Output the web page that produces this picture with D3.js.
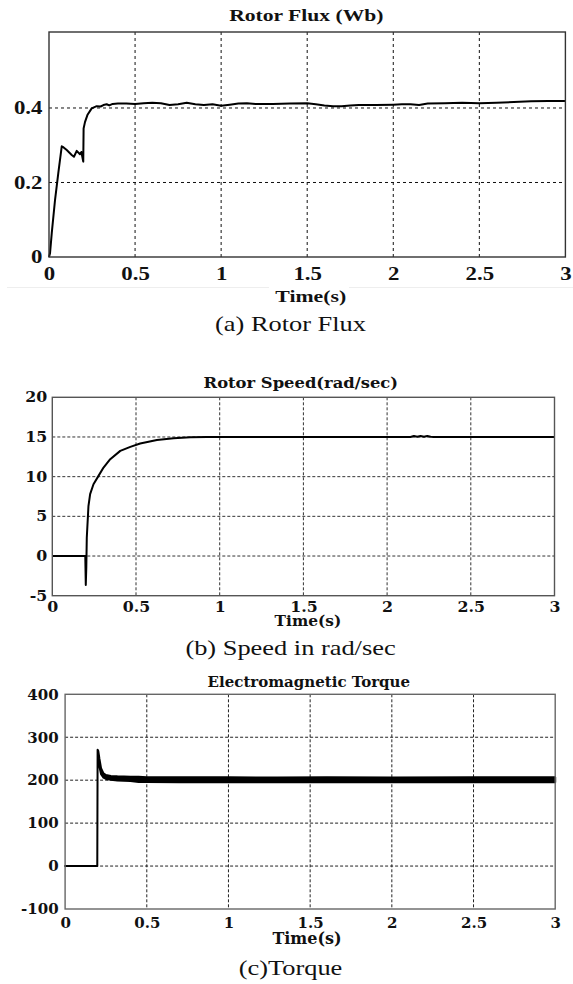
<!DOCTYPE html>
<html lang="en">
<head>
<meta charset="UTF-8">
<title>Rotor flux, speed and torque</title>
<script src="https://cdn.jsdelivr.net/npm/d3@7"></script>
<style>
  body { margin: 0; background: #fff; }
  svg { display: block; }
</style>
</head>
<body>
<svg id="chart" width="573" height="984"></svg>
<script>
// ---- data ----
const timeTicks = [0, 0.5, 1, 1.5, 2, 2.5, 3];
const timeTickLabels = ["0", "0.5", "1", "1.5", "2", "2.5", "3"];

// (a) rotor flux (Wb)
const fluxTime = [0, 0.006, 0.016, 0.035, 0.054, 0.074, 0.085, 0.103, 0.132, 0.145, 0.161, 0.18, 0.188, 0.199,
  0.201, 0.209, 0.223, 0.248, 0.277, 0.3, 0.316, 0.335, 0.35, 0.37, 0.4, 0.45, 0.5, 0.55, 0.6, 0.65, 0.7,
  0.75, 0.8, 0.85, 0.9, 0.95, 1.0, 1.05, 1.1, 1.15, 1.2, 1.3, 1.4, 1.5, 1.55, 1.6, 1.65, 1.7, 1.75, 1.8,
  1.9, 2.0, 2.05, 2.1, 2.15, 2.2, 2.3, 2.4, 2.5, 2.6, 2.7, 2.8, 2.9, 3.0];
const fluxValue = [0, 0.01, 0.064, 0.153, 0.225, 0.297, 0.294, 0.287, 0.274, 0.269, 0.285, 0.276, 0.282, 0.256,
  0.345, 0.362, 0.381, 0.399, 0.405, 0.404, 0.408, 0.41, 0.407, 0.411, 0.412, 0.412, 0.411, 0.413, 0.414, 0.413, 0.408,
  0.41, 0.414, 0.41, 0.408, 0.41, 0.406, 0.409, 0.412, 0.413, 0.411, 0.411, 0.412, 0.413, 0.41, 0.407, 0.405, 0.405, 0.407, 0.408,
  0.408, 0.409, 0.41, 0.41, 0.408, 0.412, 0.413, 0.414, 0.413, 0.414, 0.416, 0.418, 0.419, 0.419];
const fluxTicks = [0, 0.2, 0.4];
const fluxTickLabels = ["0", "0.2", "0.4"];

// (b) rotor speed (rad/sec)
const speedTime = [0, 0.197, 0.2, 0.203, 0.206, 0.216, 0.226, 0.246, 0.276, 0.306, 0.346, 0.406, 0.466, 0.525,
  0.625, 0.725, 0.825, 0.925, 1.5, 2.14, 2.16, 2.18, 2.2, 2.22, 2.24, 2.26, 2.28, 3.0];
const speedValue = [0, 0, -3.65, -1.5, 2.3, 6.3, 7.8, 9.05, 10.1, 11.15, 12.2, 13.25, 13.75, 14.17,
  14.63, 14.84, 14.96, 15, 15, 15, 15.13, 15.02, 15.13, 15.02, 15.13, 15.02, 15, 15];
const speedTicks = [-5, 0, 5, 10, 15, 20];
const speedTickLabels = ["-5", "0", "5", "10", "15", "20"];

// (c) electromagnetic torque: ripple band, upper and lower edge
const torqueTime = [0, 0.197, 0.199, 0.203, 0.21, 0.22, 0.235, 0.25, 0.28, 0.32, 0.4, 0.45, 0.5, 0.7, 1.0, 1.3, 1.6, 2.0, 2.5, 3.0];
const torqueUpper = [0, 0, 271, 268, 250, 228, 216, 212, 210, 209, 208, 208, 207, 207, 207, 206, 207, 206, 207, 207];
const torqueLower = [0, 0, 262, 252, 232, 214, 206, 203, 201, 199, 198, 196, 196, 195, 195, 195, 195, 195, 195, 195];
const torqueTicks = [-100, 0, 100, 200, 300, 400];
const torqueTickLabels = ["-100", "0", "100", "200", "300", "400"];

const svg = d3.select("#chart");
svg.append("rect").attr("width", 573).attr("height", 984).attr("fill", "#fff");

function stretchedText(g, x, y, str, font, size, sx, weight) {
  return g.append("text")
    .attr("transform", `translate(${x},${y}) scale(${sx},1)`)
    .attr("text-anchor", "middle")
    .attr("font-family", font)
    .attr("font-size", size)
    .attr("font-weight", weight || "bold")
    .attr("fill", "#111")
    .text(str);
}

function panel(p) {
  const g = svg.append("g");
  const x = d3.scaleLinear().domain([0, 3]).range([p.left, p.right]);
  const y = d3.scaleLinear().domain(p.yDomain).range([p.bottom, p.top]);

  // grid
  g.append("g").selectAll("line").data(timeTicks.slice(1, -1)).join("line")
    .attr("x1", d => x(d)).attr("x2", d => x(d))
    .attr("y1", p.top).attr("y2", p.bottom)
    .attr("stroke", p.gridColor).attr("stroke-width", 1).attr("stroke-dasharray", p.dash);
  g.append("g").selectAll("line").data(p.yTicks.filter(v => v > p.yDomain[0] && v < p.yDomain[1])).join("line")
    .attr("x1", p.left).attr("x2", p.right)
    .attr("y1", d => y(d)).attr("y2", d => y(d))
    .attr("stroke", p.gridColor).attr("stroke-width", 1).attr("stroke-dasharray", p.dash);

  // data
  p.draw(g, x, y);

  // frame
  g.append("rect")
    .attr("x", p.left).attr("y", p.top)
    .attr("width", p.right - p.left).attr("height", p.bottom - p.top)
    .attr("fill", "none").attr("stroke", p.frameColor).attr("stroke-width", 1.4);

  // axes
  const xAxis = g.append("g").attr("transform", `translate(0,${p.bottom})`)
    .call(d3.axisBottom(x).tickValues(timeTicks).tickSize(0).tickPadding(p.xPad)
      .tickFormat((d, i) => timeTickLabels[i]));
  const yAxis = g.append("g").attr("transform", `translate(${p.left},0)`)
    .call(d3.axisLeft(y).tickValues(p.yTicks).tickSize(0).tickPadding(p.yPad)
      .tickFormat((d, i) => p.yLabels[i]));
  [xAxis, yAxis].forEach(a => {
    a.select(".domain").remove();
    a.selectAll("text")
      .attr("font-family", p.font).attr("font-size", p.tickSize)
      .attr("font-weight", "bold").attr("fill", "#111");
  });
  xAxis.selectAll("text").attr("transform", `scale(${p.tickSx},1)`);
  yAxis.selectAll("text")
    .attr("x", -p.yPad / p.tickSx)
    .attr("transform", `scale(${p.tickSx},1)`);

  stretchedText(g, p.titleX, p.titleY, p.title, p.font, p.titleSize, p.titleSx);
  stretchedText(g, p.labelX, p.labelY, "Time(s)", p.font, p.labelSize, p.labelSx);
  stretchedText(g, 290.5, p.capY, p.caption, "'Liberation Serif', 'Times New Roman', serif", 22, 1.2, "normal");
}

const lineFlux = d3.line().x((d, i) => 0).y(0);

panel({
  left: 49, right: 565.4, top: 32, bottom: 257,
  yDomain: [0, 0.604], yTicks: fluxTicks, yLabels: fluxTickLabels,
  gridColor: "#111", frameColor: "#333", dash: "3,3",
  font: "'Liberation Serif', 'Times New Roman', serif",
  tickSize: 18, tickSx: 1.27, xPad: 10, yPad: 6.5,
  title: "Rotor Flux (Wb)", titleX: 306.3, titleY: 21, titleSize: 17, titleSx: 1.27,
  labelX: 310.7, labelY: 302, labelSize: 17, labelSx: 1.28,
  caption: "(a) Rotor Flux", capY: 331,
  draw: (g, x, y) => {
    const line = d3.line().x(i => x(fluxTime[i])).y(i => y(fluxValue[i]));
    g.append("path").datum(d3.range(fluxTime.length)).attr("d", line)
      .attr("fill", "none").attr("stroke", "#000").attr("stroke-width", 2).attr("stroke-linejoin", "round");
  }
});

// faint separator under the first plot's tick labels
svg.append("g").selectAll("line").data([[7, 269], [349, 573]]).join("line")
  .attr("x1", d => d[0]).attr("x2", d => d[1]).attr("y1", 287.5).attr("y2", 287.5)
  .attr("stroke", "#eee").attr("stroke-width", 1);

panel({
  left: 52.3, right: 554.5, top: 397.3, bottom: 595.7,
  yDomain: [-5, 20], yTicks: speedTicks, yLabels: speedTickLabels,
  gridColor: "#333", frameColor: "#555", dash: "3,2",
  font: "'DejaVu Serif', serif",
  tickSize: 14, tickSx: 1.13, xPad: 6, yPad: 5,
  title: "Rotor Speed(rad/sec)", titleX: 300.8, titleY: 388, titleSize: 14, titleSx: 1.17,
  labelX: 307.9, labelY: 626, labelSize: 14, labelSx: 1.1,
  caption: "(b) Speed in rad/sec", capY: 655,
  draw: (g, x, y) => {
    const line = d3.line().x(i => x(speedTime[i])).y(i => y(speedValue[i]));
    g.append("path").datum(d3.range(speedTime.length)).attr("d", line)
      .attr("fill", "none").attr("stroke", "#000").attr("stroke-width", 2).attr("stroke-linejoin", "round");
  }
});

panel({
  left: 65.1, right: 555.2, top: 694.3, bottom: 909,
  yDomain: [-100, 400], yTicks: torqueTicks, yLabels: torqueTickLabels,
  gridColor: "#222", frameColor: "#666", dash: "3,2",
  font: "'DejaVu Serif', serif",
  tickSize: 15, tickSx: 1, xPad: 8, yPad: 6.5,
  title: "Electromagnetic Torque", titleX: 308.8, titleY: 686.5, titleSize: 15, titleSx: 1,
  labelX: 307, labelY: 944, labelSize: 16, labelSx: 1,
  caption: "(c)Torque", capY: 975,
  draw: (g, x, y) => {
    const area = d3.area().x(i => x(torqueTime[i])).y0(i => y(torqueLower[i])).y1(i => y(torqueUpper[i]));
    g.append("path").datum(d3.range(torqueTime.length)).attr("d", area)
      .attr("fill", "#000").attr("stroke", "#000").attr("stroke-width", 2).attr("stroke-linejoin", "round");
  }
});
</script>
</body>
</html>
